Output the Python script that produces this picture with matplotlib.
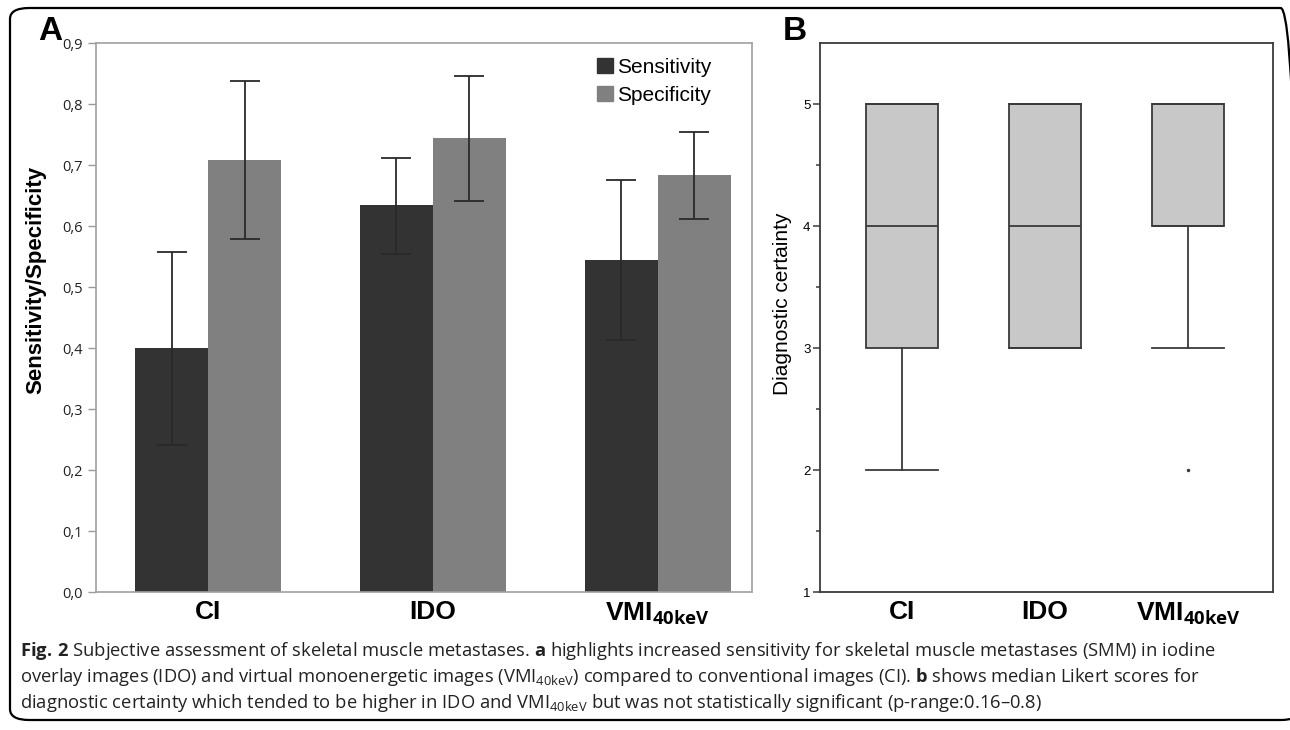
import numpy as np
import matplotlib
matplotlib.use("Agg")
import matplotlib.pyplot as plt
from matplotlib.patches import FancyBboxPatch, Patch

plt.rcParams['mathtext.fontset'] = 'custom'
plt.rcParams['mathtext.rm'] = 'Open Sans'
plt.rcParams['mathtext.it'] = 'Open Sans:italic'
plt.rcParams['mathtext.bf'] = 'Open Sans:bold'

# ---- data: panel A (sensitivity / specificity with 95% CI) ----
groups = ["CI", "IDO", r"VMI$_{\mathbf{40keV}}$"]
sens = [0.400, 0.634, 0.545]
sens_lo = [0.241, 0.555, 0.413]
sens_hi = [0.557, 0.711, 0.676]
spec = [0.709, 0.745, 0.683]
spec_lo = [0.579, 0.641, 0.612]
spec_hi = [0.838, 0.846, 0.754]

# ---- data: panel B (Likert scores, box stats) ----
box_q1 = [3, 3, 4]
box_med = [4, 4, 4]
box_q3 = [5, 5, 5]
box_wlo = [2, 3, 3]
box_whi = [5, 5, 5]
box_fliers = [[], [], [2]]

fig = plt.figure(figsize=(12.9, 7.3), dpi=100)

# rounded frame around the figure
frame = FancyBboxPatch((10 / 1290, 10 / 730), 1290 / 1290, 712 / 730,
                       boxstyle="round,pad=0,rounding_size=0.015",
                       transform=fig.transFigure, fill=False,
                       edgecolor='black', linewidth=1.6, clip_on=False)
fig.patches.append(frame)

# ---------------- panel A ----------------
axA = fig.add_axes([0.0744, 0.189, 0.5085, 0.752])
x = np.arange(len(groups))
w = 0.325
dark, mid = '#333333', '#808080'
axA.bar(x - w / 2, sens, width=w, color=dark, zorder=2)
axA.bar(x + w / 2, spec, width=w, color=mid, zorder=2)
err_s = [np.array(sens) - np.array(sens_lo), np.array(sens_hi) - np.array(sens)]
err_p = [np.array(spec) - np.array(spec_lo), np.array(spec_hi) - np.array(spec)]
axA.errorbar(x - w / 2, sens, yerr=err_s, fmt='none', ecolor='#2a2a2a',
             elinewidth=1.3, capsize=11, capthick=1.3, zorder=3)
axA.errorbar(x + w / 2, spec, yerr=err_p, fmt='none', ecolor='#2a2a2a',
             elinewidth=1.3, capsize=11, capthick=1.3, zorder=3)

axA.set_xlim(-0.5, 2.42)
axA.set_ylim(0, 0.9)
yt = np.arange(0, 0.91, 0.1)
axA.set_yticks(yt)
axA.set_yticklabels([f"{v:.1f}".replace('.', ',') for v in yt],
                    fontfamily='Open Sans', fontsize=10.5, color='#222222')
axA.set_xticks(x)
axA.set_xticklabels(groups, fontfamily='Liberation Sans', fontweight='bold',
                    fontsize=19)
axA.tick_params(axis='x', length=0, pad=6)
axA.tick_params(axis='y', length=6, color='#999999', width=1)
for s in axA.spines.values():
    s.set_color('#a0a0a0')
    s.set_linewidth(1.2)
axA.set_ylabel("Sensitivity/Specificity", fontfamily='Liberation Sans',
               fontweight='bold', fontsize=16)
axA.yaxis.set_label_coords(-0.076, 0.568)
leg = axA.legend(handles=[Patch(color=dark, label='Sensitivity'),
                          Patch(color=mid, label='Specificity')],
                 loc='upper right', bbox_to_anchor=(0.96, 1.0), frameon=False,
                 prop={'family': 'Liberation Sans', 'size': 15},
                 handlelength=0.75, handleheight=0.75, handletextpad=0.2,
                 labelspacing=0.45, borderaxespad=0.3)
fig.text(38 / 1290, 1 - 40 / 730, "A", fontfamily='Liberation Sans',
         fontweight='bold', fontsize=24)

# ---------------- panel B ----------------
axB = fig.add_axes([0.6357, 0.189, 0.351, 0.752])
stats = []
for i in range(3):
    stats.append(dict(med=box_med[i], q1=box_q1[i], q3=box_q3[i],
                      whislo=box_wlo[i], whishi=box_whi[i],
                      fliers=box_fliers[i], label=groups[i]))
edge = '#3a3a3a'
axB.bxp(stats, positions=x, widths=0.5, patch_artist=True, showcaps=True,
        boxprops=dict(facecolor='#c8c8c8', edgecolor=edge, linewidth=1.3),
        medianprops=dict(color=edge, linewidth=1.3),
        whiskerprops=dict(color=edge, linewidth=1.3),
        capprops=dict(color=edge, linewidth=1.3),
        capwidths=0.5,
        flierprops=dict(marker='o', markersize=1.5, markerfacecolor=edge,
                        markeredgecolor=edge))
axB.set_xlim(-0.57, 2.59)
axB.set_ylim(1, 5.5)
axB.set_yticks([1, 2, 3, 4, 5])
axB.set_yticks([1.5, 2.5, 3.5, 4.5], minor=True)
axB.set_yticklabels(['1', '2', '3', '4', '5'], fontfamily='Liberation Sans',
                    fontsize=9.5)
axB.set_xticklabels(groups, fontfamily='Liberation Sans', fontweight='bold',
                    fontsize=19)
axB.tick_params(axis='x', length=0, pad=6)
axB.tick_params(axis='y', which='major', length=5, color=edge, width=1.1, pad=2)
axB.tick_params(axis='y', which='minor', length=3, color=edge, width=1.1)
for s in axB.spines.values():
    s.set_color(edge)
    s.set_linewidth(1.3)
axB.set_ylabel("Diagnostic certainty", fontfamily='Liberation Sans',
               fontsize=15)
axB.yaxis.set_label_coords(-0.062, 0.525)
fig.text(783 / 1290, 1 - 40 / 730, "B", fontfamily='Liberation Sans',
         fontweight='bold', fontsize=24)

# ---------------- caption ----------------
cap = [
    r"$\mathbf{Fig.}\,\mathbf{2}$ Subjective assessment of skeletal muscle metastases. "
    r"$\mathbf{a}$ highlights increased sensitivity for skeletal muscle metastases (SMM) in iodine",
    r"overlay images (IDO) and virtual monoenergetic images (VMI$_{\mathrm{40keV}}$) compared to "
    r"conventional images (CI). $\mathbf{b}$ shows median Likert scores for",
    r"diagnostic certainty which tended to be higher in IDO and VMI$_{\mathrm{40keV}}$ "
    r"but was not statistically significant (p-range:0.16–0.8)",
]
for i, line in enumerate(cap):
    fig.text(20 / 1290, 1 - (656 + 26 * i) / 730, line, fontfamily='Open Sans',
             fontsize=13.2, color='#222222', va='baseline')

fig.savefig("out.png", dpi=100)
